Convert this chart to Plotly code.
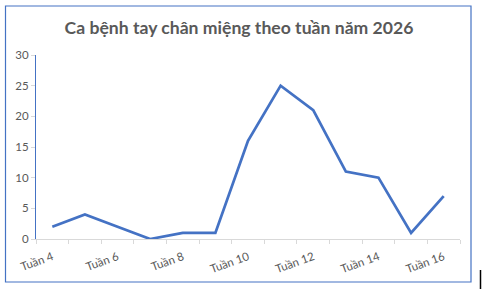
import plotly.graph_objects as go

weeks = [4, 5, 6, 7, 8, 9, 10, 11, 12, 13, 14, 15, 16]
cases = [2, 4, 2, 0, 1, 1, 16, 25, 21, 11, 10, 1, 7]
label_weeks = [4, 6, 8, 10, 12, 14, 16]
label_text = ["Tuần %d" % w for w in label_weeks]
y_ticks = [0, 5, 10, 15, 20, 25, 30]
title_text = "Ca bệnh tay chân miệng theo tuần năm 2026"

W, H = 482, 289
L, R, T, B = 36, 22, 55, 50
pw, ph = W - L - R, H - T - B

def px(x):
    return (x - L) / pw

def py(y):
    return (H - B - y) / ph

fig = go.Figure()
fig.add_trace(go.Scatter(
    x=weeks, y=cases, mode="lines",
    line=dict(color="#4472C4", width=2.75),
    hoverinfo="skip", showlegend=False,
))

gray = "#595959"
fig.update_layout(
    width=W, height=H,
    margin=dict(l=L, r=R, t=T, b=B),
    paper_bgcolor="white", plot_bgcolor="white",
    font=dict(family="Lato, Open Sans, sans-serif", color=gray, size=11),
    title=dict(text="<b>%s</b>" % title_text, xref="container", x=239 / W,
               xanchor="center", yref="container", y=1 - 28 / H, yanchor="middle",
               font=dict(size=17.6, color=gray, family="Lato, sans-serif")),
    xaxis=dict(
        range=[3.5, 16.5], tickmode="array", tickvals=label_weeks, ticktext=label_text,
        ticks="", tickangle=-20, showgrid=False, zeroline=False,
        showline=True, linecolor="#D9D9D9", linewidth=1,
        tickfont=dict(size=11.5, color=gray), ticklabelstandoff=6,
        minor=dict(tickmode="linear", tick0=3.5, dtick=1, ticks="outside",
                   ticklen=4, tickcolor="#D9D9D9", showgrid=False),
        fixedrange=True,
    ),
    yaxis=dict(
        range=[0, 30], tickmode="array", tickvals=y_ticks,
        ticks="outside", ticklen=4, tickcolor="#D9D9D9",
        showgrid=False, zeroline=False,
        showline=True, linecolor="#4472C4", linewidth=1,
        tickfont=dict(size=11.5, color=gray), fixedrange=True,
    ),
    shapes=[
        dict(type="rect", xref="paper", yref="paper",
             x0=px(5.5), x1=px(471), y0=py(282), y1=py(6),
             line=dict(color="#4472C4", width=1.2), fillcolor="rgba(0,0,0,0)",
             layer="below"),
        dict(type="line", xref="paper", yref="paper",
             x0=px(480.5), x1=px(480.5), y0=py(289), y1=py(270),
             line=dict(color="black", width=1.5)),
    ],
)

fig.write_html("out.html", config={"displayModeBar": False})
